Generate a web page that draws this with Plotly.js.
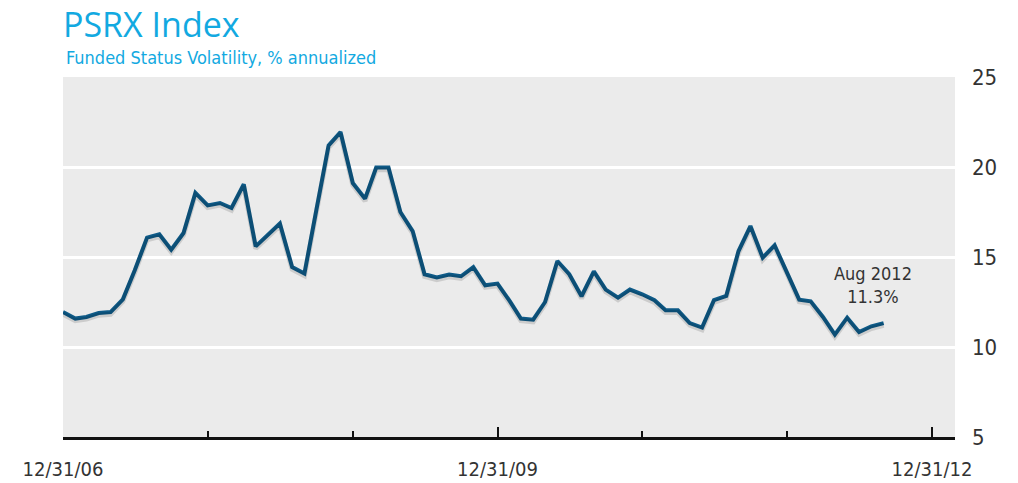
<!DOCTYPE html>
<html>
<head>
<meta charset="utf-8">
<script src="https://cdn.plot.ly/plotly-3.0.1.min.js"></script>
<style>html,body{margin:0;padding:0;background:#fff;}#chart{width:1018px;height:483px;}</style>
</head>
<body>
<div id="chart"></div>
<script>
// Monthly PSRX funded status volatility (% annualized), Dec 2006 .. Aug 2012 (month-end)
const startMonth = {year: 2006, month: 12};
const volatility = [
  11.94,
  11.58, 11.67, 11.89, 11.94, 12.65, 14.26, 16.08, 16.26, 15.41, 16.33, 18.56, 17.87,
  18.00, 17.72, 19.04, 15.59, 16.21, 16.86, 14.44, 14.08, 17.60, 21.20, 21.94, 19.11,
  18.24, 19.97, 19.97, 17.50, 16.44, 14.04, 13.86, 14.02, 13.93, 14.44, 13.43, 13.52,
  12.55, 11.58, 11.52, 12.50, 14.78, 14.04, 12.82, 14.20, 13.19, 12.74, 13.19, 12.93,
  12.60, 12.04, 12.04, 11.33, 11.08, 12.60, 12.84, 15.33, 16.72, 14.96, 15.65, 14.20,
  12.63, 12.54, 11.67, 10.69, 11.63, 10.83, 11.15, 11.33
];
const majorTickDates = ['2006-12-31', '2009-12-31', '2012-12-31'];
const majorTickLabels = ['12/31/06', '12/31/09', '12/31/12'];
const minorTickDates = ['2007-12-31', '2008-12-31', '2010-12-31', '2011-12-31'];
const yTicks = [5, 10, 15, 20, 25];
const lastLabel = ['Aug 2012', '11.3%'];

function monthEnd(y, m) { // m 1..12
  const d = new Date(Date.UTC(y, m, 0));
  return d.toISOString().slice(0, 10);
}
const dates = volatility.map((v, i) => {
  const total = startMonth.year * 12 + (startMonth.month - 1) + i;
  return monthEnd(Math.floor(total / 12), (total % 12) + 1);
});

const narrow = '"DejaVu Sans Condensed", "Liberation Sans Narrow", Arial, sans-serif';
const cyan = '#12A9E1';
const yRange = [5, 25];
const shadowShift = 0.12; // ~2px drop shadow

const shadow = {
  x: dates, y: volatility, type: 'scatter', mode: 'lines', yaxis: 'y2',
  line: {color: 'rgba(0,0,0,0.13)', width: 5}, hoverinfo: 'skip'
};
const trace = {
  x: dates, y: volatility, type: 'scatter', mode: 'lines',
  line: {color: '#0E5A87', width: 4, shape: 'linear'},
  hoverinfo: 'x+y'
};

const layout = {
  width: 1018, height: 483,
  margin: {l: 63, r: 63, t: 77, b: 46},
  paper_bgcolor: '#ffffff',
  plot_bgcolor: '#EBEBEB',
  showlegend: false,
  xaxis: {
    type: 'date',
    range: ['2006-12-31', '2013-02-27'],
    tickmode: 'array', tickvals: majorTickDates, ticktext: majorTickLabels,
    ticks: 'inside', ticklen: 10, tickwidth: 2, tickcolor: '#111',
    minor: {tickmode: 'array', tickvals: minorTickDates, ticks: 'inside', ticklen: 6, tickwidth: 2, tickcolor: '#111', showgrid: false},
    showgrid: false, zeroline: false,
    showline: true, linecolor: '#111', linewidth: 3,
    tickfont: {family: narrow, size: 20, color: '#333'},
    ticklabelstandoff: 12,
    fixedrange: true
  },
  yaxis: {
    side: 'right',
    range: yRange,
    tickmode: 'array', tickvals: yTicks, ticktext: yTicks.map(String),
    ticks: '', showline: false, zeroline: false,
    showgrid: true, gridcolor: '#ffffff', gridwidth: 3,
    tickfont: {family: narrow, size: 22, color: '#333'},
    ticklabelstandoff: 16,
    fixedrange: true
  },
  yaxis2: {
    overlaying: 'y', range: [yRange[0] + shadowShift, yRange[1] + shadowShift],
    visible: false, showgrid: false, zeroline: false, fixedrange: true
  },
  annotations: [
    {text: 'PSRX Index', xref: 'paper', yref: 'paper', x: 0, y: 1, xanchor: 'left', yanchor: 'bottom',
     xshift: -1, yshift: 29, borderpad: 0, showarrow: false, font: {family: '"Open Sans", sans-serif', size: 34, color: cyan}},
    {text: 'Funded Status Volatility, % annualized', xref: 'paper', yref: 'paper', x: 0, y: 1, xanchor: 'left', yanchor: 'bottom',
     xshift: 1, yshift: 7, showarrow: false, font: {family: narrow, size: 18, color: cyan}},
    {text: lastLabel.join('<br>'), xref: 'x', yref: 'y', x: dates[dates.length - 1], y: volatility[volatility.length - 1],
     xanchor: 'center', yanchor: 'bottom', xshift: -11, yshift: 14, showarrow: false, align: 'center',
     font: {family: narrow, size: 18, color: '#333'}}
  ]
};

Plotly.newPlot('chart', [shadow, trace], layout, {displayModeBar: false, staticPlot: true});
</script>
</body>
</html>
